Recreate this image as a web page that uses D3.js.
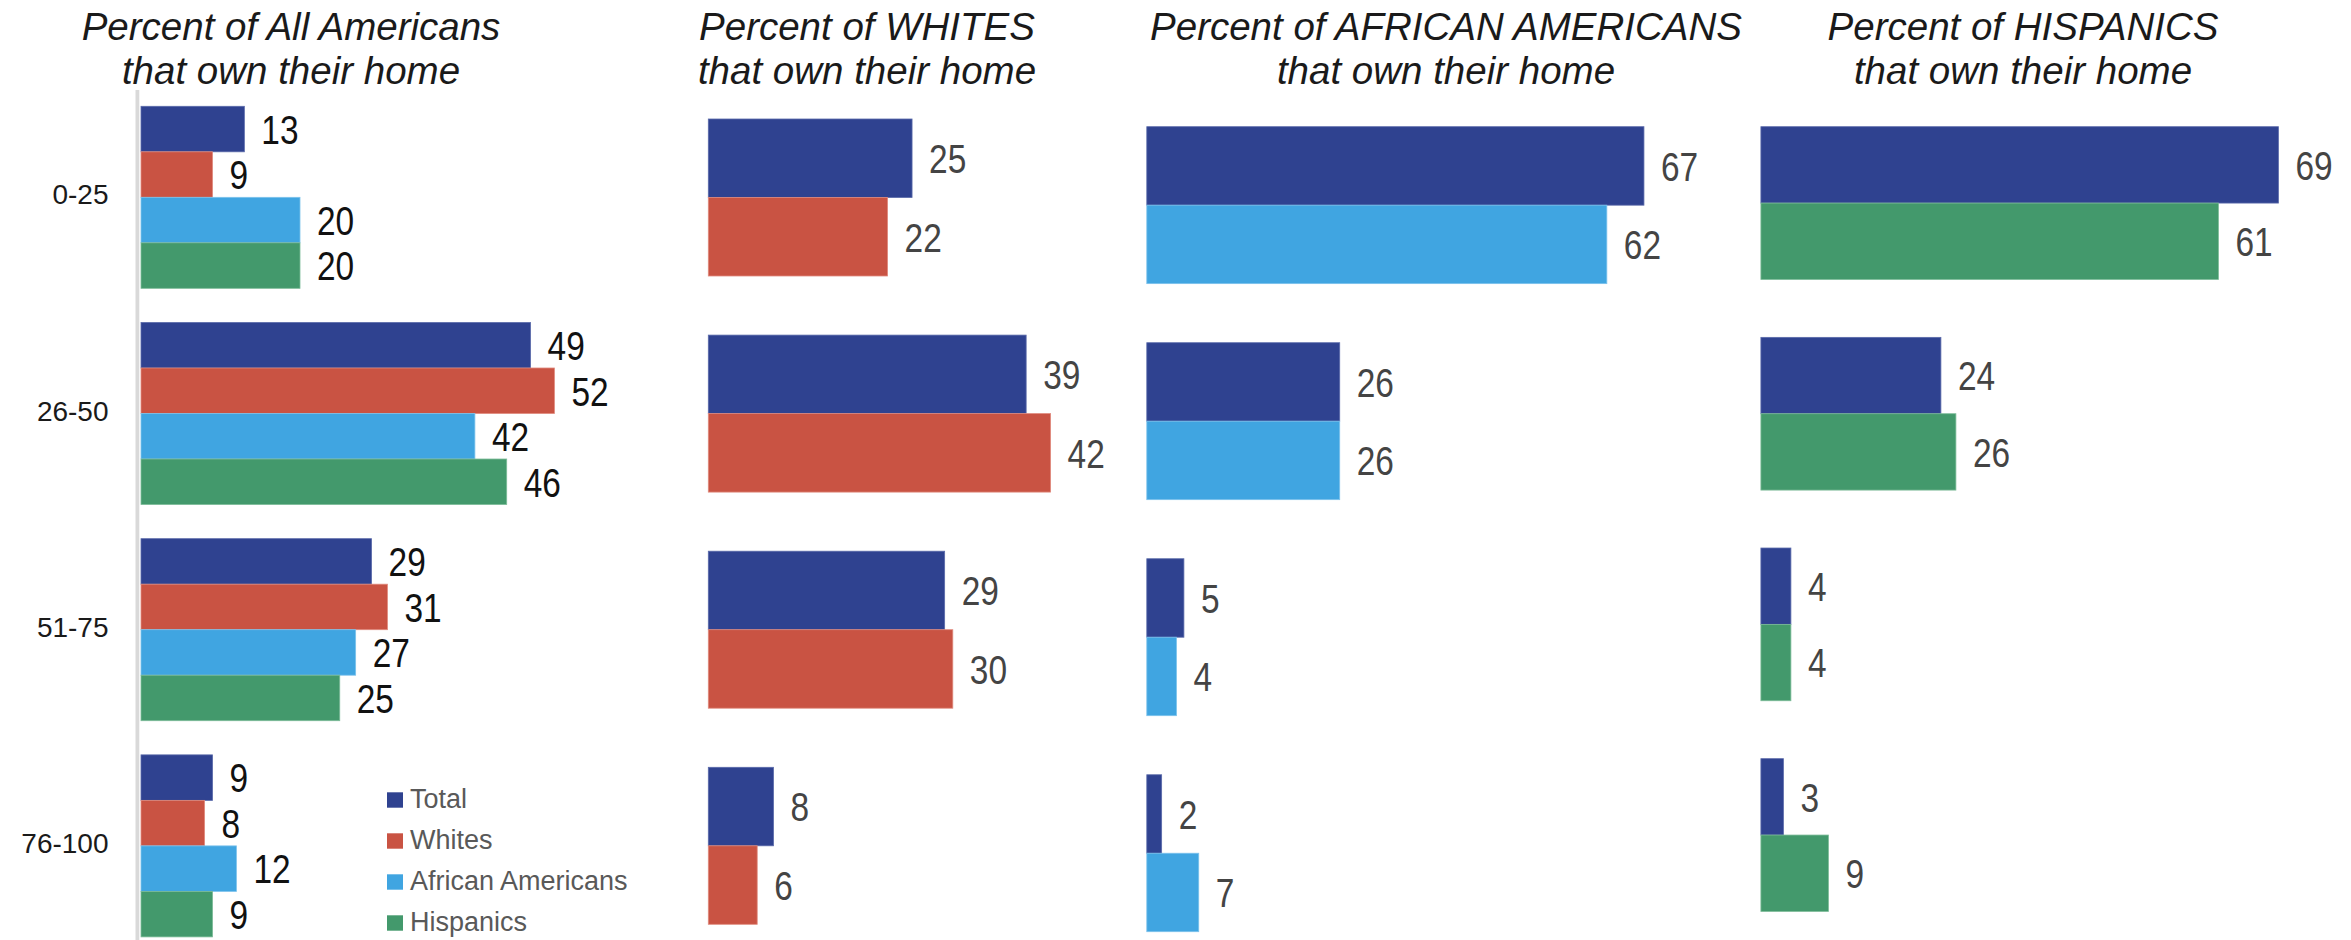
<!DOCTYPE html>
<html>
<head>
<meta charset="utf-8">
<script src="https://cdn.jsdelivr.net/npm/d3@7"></script>
<style>
  html, body { margin: 0; padding: 0; background: #fff; }
  svg { display: block; }
</style>
</head>
<body>
<svg id="chart" width="2351" height="940"></svg>
<script>
// ---------------- DATA ----------------
const ageGroups = ["0-25", "26-50", "51-75", "76-100"];
const seriesNames = ["Total", "Whites", "African Americans", "Hispanics"];

// Panel 1: Percent of All Americans
const allTotal    = [13, 49, 29, 9];
const allWhites   = [9, 52, 31, 8];
const allAfrican  = [20, 42, 27, 12];
const allHispanic = [20, 46, 25, 9];

// Panel 2: Percent of WHITES
const whitesTotal = [25, 39, 29, 8];
const whitesOwn   = [22, 42, 30, 6];

// Panel 3: Percent of AFRICAN AMERICANS
const africanTotal = [67, 26, 5, 2];
const africanOwn   = [62, 26, 4, 7];

// Panel 4: Percent of HISPANICS
const hispanicTotal = [69, 24, 4, 3];
const hispanicOwn   = [61, 26, 4, 9];

const panelTitles = [
  ["Percent of All Americans", "that own their home"],
  ["Percent of WHITES", "that own their home"],
  ["Percent of AFRICAN AMERICANS", "that own their home"],
  ["Percent of HISPANICS", "that own their home"]
];

// ---------------- STYLE / LAYOUT ----------------
const colors = {
  "Total": "#2f4290",
  "Whites": "#c95343",
  "African Americans": "#40a5e1",
  "Hispanics": "#43996c"
};
const strokeColors = {
  "Total": "#5a6aaa",
  "Whites": "#e08a7e",
  "African Americans": "#7cc2ec",
  "Hispanics": "#7cbb98"
};

const panels = [
  { series: ["Total", "Whites", "African Americans", "Hispanics"],
    values: [allTotal, allWhites, allAfrican, allHispanic],
    x0: 141, pxPerUnit: 7.95, y0: 106.3, y1: 936.9, padInner: 0.158,
    titleX: 291, labelColor: "#111" },
  { series: ["Total", "Whites"], values: [whitesTotal, whitesOwn],
    x0: 708.3, pxPerUnit: 8.15, y0: 119, y1: 924.3, padInner: 0.2735,
    titleX: 867, labelColor: "#444" },
  { series: ["Total", "African Americans"], values: [africanTotal, africanOwn],
    x0: 1146.8, pxPerUnit: 7.42, y0: 126.7, y1: 931.7, padInner: 0.2735,
    titleX: 1446, labelColor: "#444" },
  { series: ["Total", "Hispanics"], values: [hispanicTotal, hispanicOwn],
    x0: 1760.9, pxPerUnit: 7.50, y0: 126.7, y1: 911.4, padInner: 0.275,
    titleX: 2023, labelColor: "#444" }
];

const titleFont = "'Liberation Sans', Arial, sans-serif";
const numFont = "'Liberation Sans', Arial, sans-serif";
const digitWidth = 18.6;

const svg = d3.select("#chart");
svg.append("rect").attr("width", 2351).attr("height", 940).attr("fill", "#fff");

// Left axis line of first panel
svg.append("rect")
  .attr("x", 135.5).attr("y", 90).attr("width", 3.8).attr("height", 850)
  .attr("fill", "#d9d9d9");

panels.forEach((p, pi) => {
  const g = svg.append("g");
  const x = d3.scaleLinear().domain([0, 100]).range([p.x0, p.x0 + 100 * p.pxPerUnit]);
  const y = d3.scaleBand().domain(ageGroups).range([p.y0, p.y1])
    .paddingInner(p.padInner).paddingOuter(0);
  const ys = d3.scaleBand().domain(p.series).range([0, y.bandwidth()]).padding(0);

  const rows = [];
  ageGroups.forEach((a, ai) => {
    p.series.forEach((s, si) => {
      rows.push({ age: a, series: s, value: p.values[si][ai] });
    });
  });

  g.selectAll("rect.bar").data(rows).join("rect")
    .attr("class", "bar")
    .attr("x", x(0))
    .attr("y", d => y(d.age) + ys(d.series))
    .attr("width", d => x(d.value) - x(0))
    .attr("height", ys.bandwidth())
    .attr("fill", d => colors[d.series])
    .attr("stroke", d => strokeColors[d.series])
    .attr("stroke-width", 0.8);

  g.selectAll("text.val").data(rows).join("text")
    .attr("class", "val")
    .attr("x", d => x(d.value) + 17)
    .attr("y", d => y(d.age) + ys(d.series) + ys.bandwidth() / 2)
    .attr("dy", "0.36em")
    .attr("font-family", numFont)
    .attr("font-size", 41)
    .attr("fill", p.labelColor)
    .attr("textLength", d => String(d.value).length * digitWidth)
    .attr("lengthAdjust", "spacingAndGlyphs")
    .text(d => d.value);

  // Title
  const t = g.append("text")
    .attr("x", p.titleX)
    .attr("text-anchor", "middle")
    .attr("font-family", titleFont)
    .attr("font-style", "italic")
    .attr("font-size", 38.5)
    .attr("fill", "#1a1a1a");
  panelTitles[pi].forEach((line, li) => {
    t.append("tspan").attr("x", p.titleX).attr("y", li === 0 ? 39.5 : 83.5).text(line);
  });

  // Category labels only on first panel
  if (pi === 0) {
    g.selectAll("text.cat").data(ageGroups).join("text")
      .attr("class", "cat")
      .attr("x", 108.5)
      .attr("y", d => y(d) + y.bandwidth() / 2 - 3)
      .attr("dy", "0.36em")
      .attr("text-anchor", "end")
      .attr("font-family", titleFont)
      .attr("font-size", 28)
      .attr("fill", "#1a1a1a")
      .text(d => d);
  }
});

// Legend
const legendY = d3.scalePoint().domain(seriesNames).range([792.3, 915.3]);
const lg = svg.append("g");
lg.selectAll("rect").data(seriesNames).join("rect")
  .attr("x", 387).attr("y", d => legendY(d))
  .attr("width", 16).attr("height", 15.4)
  .attr("fill", d => colors[d]);
lg.selectAll("text").data(seriesNames).join("text")
  .attr("x", 410).attr("y", d => legendY(d) + 15.4)
  .attr("font-family", titleFont)
  .attr("font-size", 27)
  .attr("fill", "#595959")
  .text(d => d);
</script>
</body>
</html>
